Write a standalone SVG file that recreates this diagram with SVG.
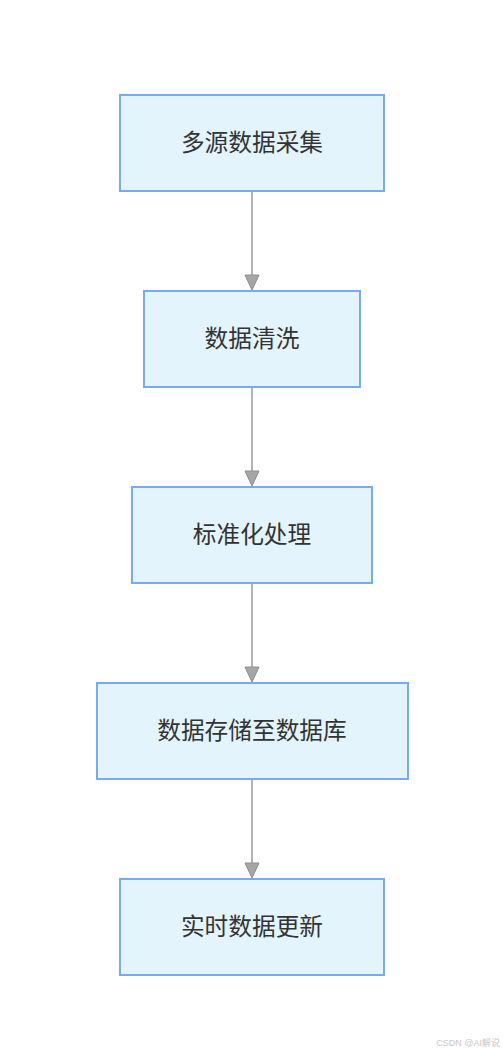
<svg xmlns="http://www.w3.org/2000/svg" width="504" height="1056" viewBox="0 0 504 1056">
<style>
.n rect{fill:#e3f4fd;stroke:#78a9f5;stroke-width:2}
.n text{font-family:"Noto Sans CJK SC","Liberation Sans",sans-serif;font-size:23.7px;fill:#333;text-anchor:middle;dominant-baseline:central}
.e line{stroke:#999;stroke-width:1.5}
.e path{fill:#a6a6a6;stroke:#8c8c8c;stroke-width:1}
.wm{font-family:"Liberation Sans","Noto Sans CJK SC",sans-serif;font-size:9px;fill:#c8c8c8;text-anchor:end}
</style>
<rect width="504" height="1056" fill="#fff"/>
<g id="edges" class="e">
<line x1="252" y1="191" x2="252" y2="276"/><path d="M245,275 L259,275 L252,290 Z"/>
<line x1="252" y1="387" x2="252" y2="472"/><path d="M245,471 L259,471 L252,486 Z"/>
<line x1="252" y1="583" x2="252" y2="668"/><path d="M245,667 L259,667 L252,682 Z"/>
<line x1="252" y1="779" x2="252" y2="864"/><path d="M245,863 L259,863 L252,878 Z"/>
</g>
<g id="n1" class="n"><rect x="120" y="95" width="264" height="96"/><text x="252" y="141">多源数据采集</text></g>
<g id="n2" class="n"><rect x="144" y="291" width="216" height="96"/><text x="252" y="337">数据清洗</text></g>
<g id="n3" class="n"><rect x="132" y="487" width="240" height="96"/><text x="252" y="533">标准化处理</text></g>
<g id="n4" class="n"><rect x="97" y="683" width="311" height="96"/><text x="252" y="729">数据存储至数据库</text></g>
<g id="n5" class="n"><rect x="120" y="879" width="264" height="96"/><text x="252" y="925">实时数据更新</text></g>
<text class="wm" x="500" y="1046">CSDN @AI解说</text>
</svg>
